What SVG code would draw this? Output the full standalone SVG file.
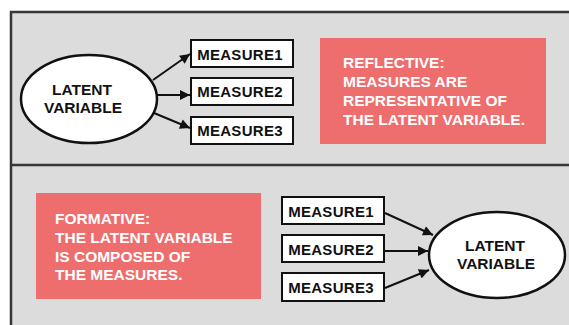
<svg xmlns="http://www.w3.org/2000/svg" width="569" height="325" viewBox="0 0 569 325">
  <style>
    text { font-family: "Liberation Sans", Arial, sans-serif; font-weight: bold; }
    .panel { fill: #dcdcdc; }
    .frame { stroke: #363636; stroke-width: 2.5; fill: none; }
    .note { fill: #ee6d6d; }
    .note-text { fill: #ffffff; font-size: 15.5px; }
    .box { fill: #ffffff; stroke: #111111; stroke-width: 2; }
    .box-text { fill: #111111; font-size: 15px; letter-spacing: 0.3px; text-anchor: middle; }
    .oval { fill: #ffffff; stroke: #111111; stroke-width: 2.5; }
    .oval-text { fill: #111111; font-size: 15.5px; text-anchor: middle; }
    .edge { stroke: #111111; stroke-width: 2; fill: none; marker-end: url(#arrow); }
  </style>
  <defs>
    <marker id="arrow" viewBox="0 0 10 10" refX="10" refY="5" markerWidth="5.5" markerHeight="5" markerUnits="strokeWidth" orient="auto">
      <path d="M0,0 L10,5 L0,10 Z" fill="#111111"/>
    </marker>
  </defs>

  <!-- page -->
  <rect x="0" y="0" width="569" height="325" fill="#ffffff"/>
  <rect class="panel" x="11" y="12" width="558" height="313"/>
  <path class="frame" d="M11,325 V12 H569"/>
  <path class="frame" d="M11,165 H569"/>

  <!-- reflective panel -->
  <g id="latent-reflective">
    <ellipse class="oval" cx="89" cy="99" rx="68" ry="44"/>
    <text class="oval-text" x="82" y="95">LATENT</text>
    <text class="oval-text" x="83" y="113">VARIABLE</text>
  </g>
  <g id="r-measure1">
    <rect class="box" x="191" y="40" width="102" height="27"/>
    <text class="box-text" x="240" y="60">MEASURE1</text>
  </g>
  <g id="r-measure2">
    <rect class="box" x="191" y="78" width="102" height="27"/>
    <text class="box-text" x="240" y="97">MEASURE2</text>
  </g>
  <g id="r-measure3">
    <rect class="box" x="191" y="117" width="102" height="27"/>
    <text class="box-text" x="240" y="136">MEASURE3</text>
  </g>
  <g id="reflective-note">
    <rect class="note" x="320" y="38" width="226" height="106"/>
    <text class="note-text" x="343" y="68">REFLECTIVE:</text>
    <text class="note-text" x="343" y="87">MEASURES ARE</text>
    <text class="note-text" x="343" y="106">REPRESENTATIVE OF</text>
    <text class="note-text" x="343" y="125">THE LATENT VARIABLE.</text>
  </g>

  <!-- formative panel -->
  <g id="formative-note">
    <rect class="note" x="36" y="193" width="225" height="106"/>
    <text class="note-text" x="55" y="224">FORMATIVE:</text>
    <text class="note-text" x="55" y="243">THE LATENT VARIABLE</text>
    <text class="note-text" x="55" y="261.5">IS COMPOSED OF</text>
    <text class="note-text" x="55" y="280">THE MEASURES.</text>
  </g>
  <g id="f-measure1">
    <rect class="box" x="282" y="197" width="102" height="27"/>
    <text class="box-text" x="331" y="217">MEASURE1</text>
  </g>
  <g id="f-measure2">
    <rect class="box" x="282" y="235" width="102" height="27"/>
    <text class="box-text" x="331" y="255">MEASURE2</text>
  </g>
  <g id="f-measure3">
    <rect class="box" x="282" y="273" width="102" height="28"/>
    <text class="box-text" x="331" y="293">MEASURE3</text>
  </g>
  <g id="latent-formative">
    <ellipse class="oval" cx="497" cy="255" rx="68" ry="43"/>
    <text class="oval-text" x="495" y="251">LATENT</text>
    <text class="oval-text" x="496" y="269">VARIABLE</text>
  </g>

  <!-- connectors -->
  <g id="connectors">
    <line class="edge" x1="153" y1="80" x2="190" y2="54"/>
    <line class="edge" x1="157" y1="95" x2="190" y2="95"/>
    <line class="edge" x1="154" y1="113" x2="190" y2="128"/>
    <line class="edge" x1="385" y1="213" x2="433" y2="235"/>
    <line class="edge" x1="385" y1="251" x2="428" y2="251"/>
    <line class="edge" x1="385" y1="288" x2="429" y2="270"/>
  </g>
</svg>
